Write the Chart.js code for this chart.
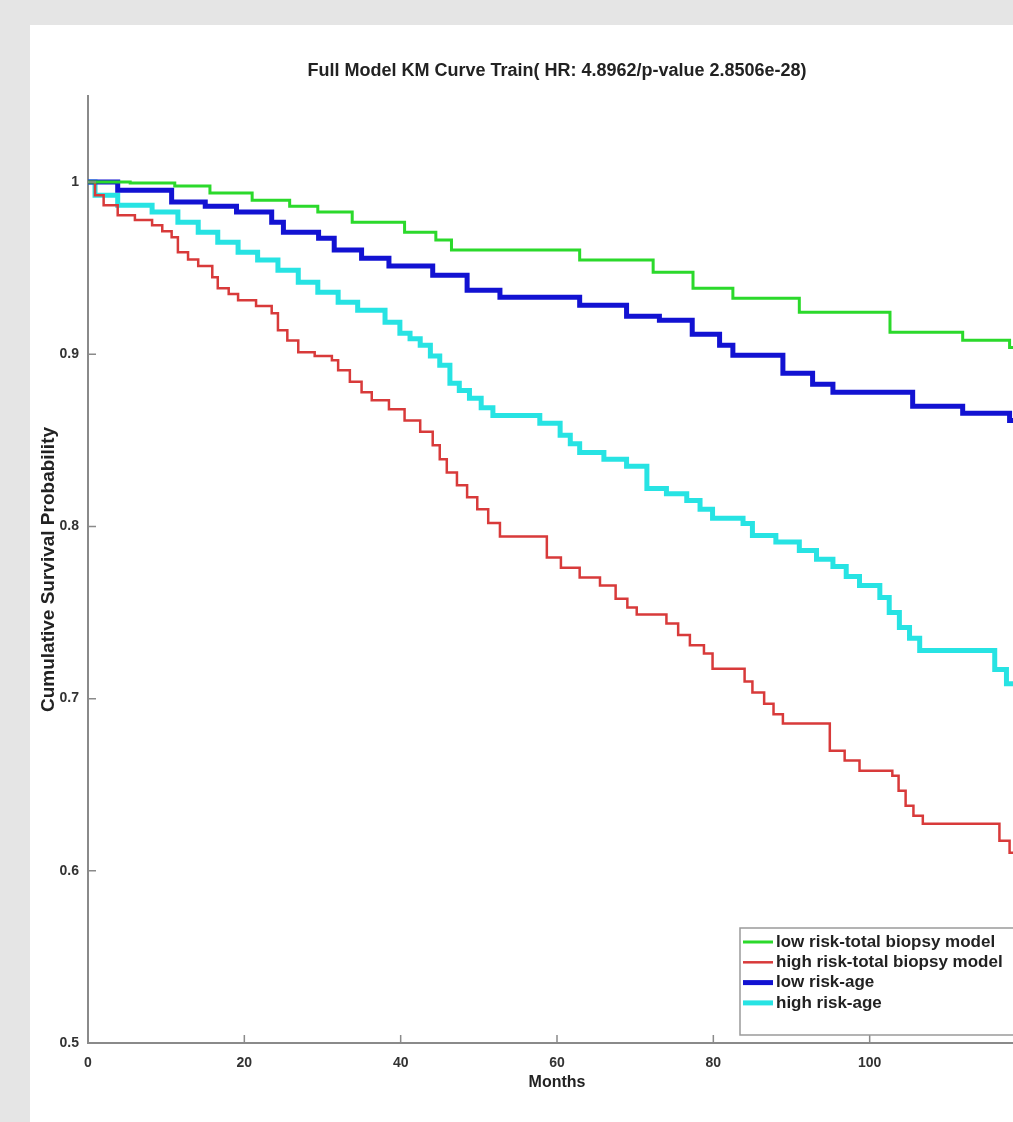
<!DOCTYPE html>
<html>
<head>
<meta charset="utf-8">
<script src="https://cdn.jsdelivr.net/npm/chart.js@4.4.0/dist/chart.umd.min.js"></script>
<style>
  html, body { margin: 0; padding: 0; background: #e5e5e5; overflow: hidden; width: 1013px; height: 1122px; }
  #panel { position: absolute; left: 30px; top: 25px; width: 1100px; height: 1120px; background: #fff; }
  #wrap { position: absolute; left: 0; top: 0; width: 1100px; height: 1122px; }
</style>
</head>
<body>
<div id="panel"></div>
<div id="wrap"><canvas id="km" width="1100" height="1122"></canvas></div>
<script>
// KM curves (months, survival)
const greenMonths = [0, 5.4, 11.1, 15.6, 21.0, 25.8, 29.4, 33.8, 40.5, 44.5, 46.5, 62.9, 72.3, 77.4, 82.5, 91.0, 102.6, 111.9, 117.9, 119.5];
const greenSurv   = [1.0, 0.9994, 0.9977, 0.9936, 0.9895, 0.986, 0.9826, 0.9767, 0.9709, 0.9663, 0.9605, 0.9547, 0.9477, 0.9384, 0.9326, 0.9244, 0.9128, 0.9081, 0.904, 0.904];

const redMonths = [0, 0.9, 2.0, 3.8, 6.0, 8.2, 9.5, 10.7, 11.5, 12.8, 14.1, 15.9, 16.6, 18.0, 19.2, 21.5, 23.5, 24.3, 25.5, 26.9,
                   29.0, 31.2, 32.0, 33.5, 35.0, 36.3, 38.5, 40.5, 42.5, 44.1, 45.0, 45.9, 47.2, 48.5, 49.8, 51.2, 52.7, 58.7, 60.5, 62.9,
                   65.5, 67.5, 69.0, 70.2, 74.0, 75.5, 77.0, 78.8, 79.9, 84.0, 85.0, 86.5, 87.7, 88.9, 94.9, 96.8, 98.7, 102.9, 103.7, 104.6,
                   105.6, 106.8, 116.6, 117.9, 119.5];
const redSurv   = [1.0, 0.9924, 0.9866, 0.9808, 0.978, 0.975, 0.9715, 0.968, 0.9593, 0.955, 0.9512, 0.9448, 0.9384, 0.935, 0.9314, 0.928, 0.9238, 0.914, 0.908, 0.9012,
                   0.899, 0.8965, 0.8907, 0.884, 0.878, 0.8733, 0.868, 0.8616, 0.855, 0.8471, 0.839, 0.8314, 0.824, 0.8169, 0.81, 0.802, 0.7942, 0.782, 0.776, 0.7703,
                   0.7657, 0.758, 0.753, 0.7488, 0.7436, 0.737, 0.731, 0.7262, 0.7174, 0.710, 0.7035, 0.697, 0.691, 0.6855, 0.6698, 0.664, 0.6581, 0.6552, 0.6465, 0.6378,
                   0.632, 0.6273, 0.6174, 0.6105, 0.6105];

const blueMonths = [0, 3.8, 10.7, 15.0, 19.0, 23.5, 25.0, 29.5, 31.5, 35.0, 38.5, 44.1, 48.5, 52.7, 62.9, 68.9, 73.1, 77.3, 80.8, 82.5, 88.9, 92.7, 95.3, 105.5, 111.9, 117.9, 119.5];
const blueSurv   = [1.0, 0.9953, 0.9884, 0.986, 0.9826, 0.9767, 0.9709, 0.9674, 0.9605, 0.9558, 0.9512, 0.9459, 0.9372, 0.9331, 0.9285, 0.9221, 0.9198, 0.9116, 0.9052, 0.8994, 0.889, 0.8826, 0.8779, 0.8698, 0.8657, 0.8616, 0.8616];

const cyanMonths = [0, 0.9, 3.8, 8.2, 11.5, 14.1, 16.6, 19.2, 21.7, 24.3, 26.9, 29.4, 32.0, 34.5, 38.0, 39.9, 41.2, 42.5, 43.8, 45.0,
                    46.3, 47.5, 48.8, 50.3, 51.8, 57.8, 60.4, 61.7, 62.9, 66.0, 68.9, 71.5, 74.0, 76.6, 78.3, 79.9, 83.8, 85.0, 88.0, 91.0,
                    93.2, 95.3, 97.0, 98.7, 101.3, 102.5, 103.8, 105.1, 106.4, 116.0, 117.5, 119.5];
const cyanSurv   = [1.0, 0.9924, 0.9866, 0.9826, 0.9767, 0.9709, 0.9651, 0.9593, 0.9547, 0.9488, 0.9419, 0.936, 0.9302, 0.9256, 0.9186, 0.9122, 0.909, 0.9052, 0.899, 0.8936,
                    0.8831, 0.879, 0.8744, 0.869, 0.8645, 0.8599, 0.8529, 0.848, 0.843, 0.839, 0.8349, 0.8221, 0.819, 0.8151, 0.81, 0.8047, 0.8017, 0.7948, 0.791, 0.786,
                    0.781, 0.7767, 0.771, 0.7657, 0.7587, 0.75, 0.7413, 0.735, 0.7279, 0.7169, 0.7087, 0.7087];

const seriesNames = ['low risk-total biopsy model', 'high risk-total biopsy model', 'low risk-age', 'high risk-age'];
const xTicks = [0, 20, 40, 60, 80, 100, 120];
const yTicks = [0.5, 0.6, 0.7, 0.8, 0.9, 1];
const yTickLabels = ['0.5', '0.6', '0.7', '0.8', '0.9', '1'];

function pts(xs, ys) {
    return xs.map((x, i) => ({ x: x, y: ys[i] }));
}

const labelFont = { family: "'Liberation Sans', Arial, sans-serif", weight: 'bold' };

// inward tick marks, MATLAB style
const innerTicks = {
    id: 'innerTicks',
    afterDraw(chart) {
        const ctx = chart.ctx;
        const xs = chart.scales.x, ys = chart.scales.y;
        const a = chart.chartArea;
        ctx.save();
        ctx.strokeStyle = '#8a8a8a';
        ctx.lineWidth = 1.5;
        ctx.beginPath();
        xTicks.forEach(v => {
            const px = xs.getPixelForValue(v);
            ctx.moveTo(px, a.bottom);
            ctx.lineTo(px, a.bottom - 8);
        });
        yTicks.forEach(v => {
            const py = ys.getPixelForValue(v);
            ctx.moveTo(a.left, py);
            ctx.lineTo(a.left + 8, py);
        });
        ctx.stroke();
        ctx.restore();
    }
};

// title centred over the axes
const axesTitle = {
    id: 'axesTitle',
    afterDraw(chart) {
        const ctx = chart.ctx;
        const a = chart.chartArea;
        ctx.save();
        ctx.fillStyle = '#222';
        ctx.font = "bold 18px 'Liberation Sans', Arial, sans-serif";
        ctx.textAlign = 'center';
        ctx.textBaseline = 'middle';
        ctx.fillText('Full Model KM Curve Train( HR: 4.8962/p-value 2.8506e-28)', (a.left + a.right) / 2, 71);
        ctx.restore();
    }
};

// legend box in the lower right of the axes
const boxLegend = {
    id: 'boxLegend',
    afterDraw(chart) {
        const ctx = chart.ctx;
        const a = chart.chartArea;
        const w = 282, h = 107;
        const bx = a.right - 4 - w, by = a.bottom - 8 - h;
        ctx.save();
        ctx.fillStyle = '#fff';
        ctx.fillRect(bx, by, w, h);
        ctx.strokeStyle = '#9a9a9a';
        ctx.lineWidth = 1.5;
        ctx.strokeRect(bx, by, w, h);
        ctx.font = "bold 17px 'Liberation Sans', Arial, sans-serif";
        ctx.textBaseline = 'middle';
        chart.data.datasets.forEach((ds, i) => {
            const cy = by + 14 + i * 20.3;
            ctx.strokeStyle = ds.borderColor;
            ctx.lineWidth = ds.borderWidth;
            ctx.beginPath();
            ctx.moveTo(bx + 3, cy);
            ctx.lineTo(bx + 33, cy);
            ctx.stroke();
            ctx.fillStyle = '#222';
            ctx.fillText(ds.label, bx + 36, cy);
        });
        ctx.restore();
    }
};

const ctx = document.getElementById('km').getContext('2d');
const kmChart = new Chart(ctx, {
    type: 'line',
    data: {
        datasets: [
            { label: seriesNames[0], data: pts(greenMonths, greenSurv), borderColor: '#2bd92b', borderWidth: 3 },
            { label: seriesNames[1], data: pts(redMonths, redSurv), borderColor: '#d83a3a', borderWidth: 2.5 },
            { label: seriesNames[2], data: pts(blueMonths, blueSurv), borderColor: '#1212d2', borderWidth: 5 },
            { label: seriesNames[3], data: pts(cyanMonths, cyanSurv), borderColor: '#27e3e3', borderWidth: 5 }
        ]
    },
    options: {
        responsive: false,
        animation: false,
        layout: { padding: { left: 34, top: 96, right: 74, bottom: 0 } },
        elements: {
            line: { stepped: true, fill: false, tension: 0 },
            point: { radius: 0, hoverRadius: 0 }
        },
        scales: {
            x: {
                type: 'linear',
                min: 0,
                max: 120,
                afterBuildTicks: s => { s.ticks = xTicks.map(v => ({ value: v })); },
                afterFit: s => { s.height = 79; },
                grid: { display: false, drawTicks: false },
                border: { display: true, color: '#8a8a8a', width: 2 },
                ticks: { padding: 12, color: '#333', font: Object.assign({ size: 14 }, labelFont), maxRotation: 0 },
                title: { display: true, text: 'Months', color: '#222', font: Object.assign({ size: 16 }, labelFont), padding: { top: 4, bottom: 30 } }
            },
            y: {
                min: 0.5,
                max: 1.05,
                afterBuildTicks: s => { s.ticks = yTicks.map(v => ({ value: v })); },
                afterFit: s => { s.width = 54; },
                grid: { display: false, drawTicks: false },
                border: { display: true, color: '#8a8a8a', width: 2 },
                ticks: {
                    padding: 9,
                    color: '#333',
                    font: Object.assign({ size: 14 }, labelFont),
                    callback: (v) => yTickLabels[yTicks.indexOf(v)]
                },
                title: { display: true, text: 'Cumulative Survival Probability', color: '#222', font: Object.assign({ size: 19 }, labelFont), padding: { top: 3, bottom: 4 } }
            }
        },
        plugins: {
            legend: { display: false },
            tooltip: { enabled: false }
        }
    },
    plugins: [innerTicks, axesTitle, boxLegend]
});
</script>
</body>
</html>
